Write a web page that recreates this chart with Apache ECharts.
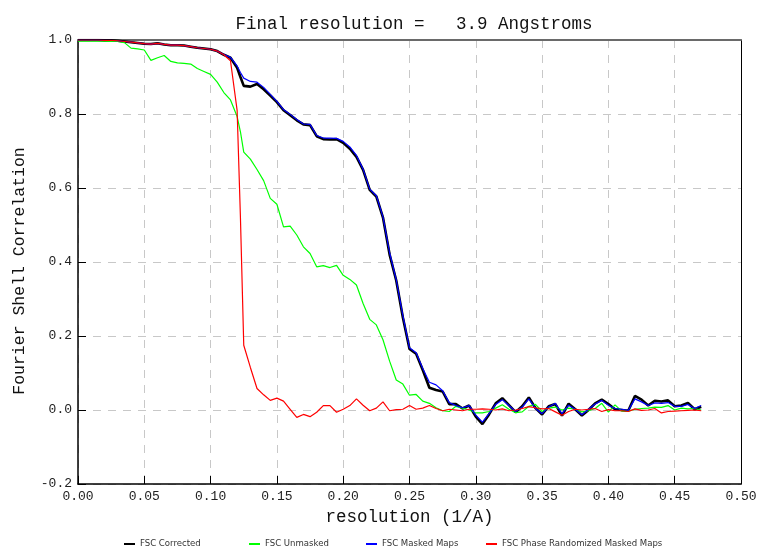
<!DOCTYPE html>
<html>
<head>
<meta charset="utf-8">
<script src="https://cdn.jsdelivr.net/npm/echarts@6/dist/echarts.min.js"></script>
<style>
  html, body { margin: 0; padding: 0; background: #fff; }
  #chart { width: 761px; height: 548px; }
</style>
</head>
<body>
<div id="chart"></div>
<script>
// Spatial frequency of each Fourier shell (1/Å)
const resolution = [
  0.000, 0.005, 0.010, 0.015, 0.020, 0.025, 0.030, 0.035, 0.040, 0.045,
  0.050, 0.055, 0.060, 0.065, 0.070, 0.075, 0.080, 0.085, 0.090, 0.095,
  0.100, 0.105, 0.110, 0.115, 0.120, 0.1225, 0.125, 0.130, 0.135, 0.140,
  0.145, 0.150, 0.155, 0.160, 0.165, 0.170, 0.175, 0.180, 0.185, 0.190,
  0.195, 0.200, 0.205, 0.210, 0.215, 0.220, 0.225, 0.230, 0.235, 0.240,
  0.245, 0.250, 0.255, 0.260, 0.265, 0.270, 0.275, 0.280, 0.285, 0.290,
  0.295, 0.300, 0.305, 0.310, 0.315, 0.320, 0.325, 0.330, 0.335, 0.340,
  0.345, 0.350, 0.355, 0.360, 0.365, 0.370, 0.375, 0.380, 0.385, 0.390,
  0.395, 0.400, 0.405, 0.410, 0.415, 0.420, 0.425, 0.430, 0.435, 0.440,
  0.445, 0.450, 0.455, 0.460, 0.465, 0.470
];

const fscCorrected = [
  1.000, 1.000, 1.000, 1.000, 0.999, 0.999, 0.998, 0.996, 0.994, 0.992,
  0.990, 0.989, 0.991, 0.988, 0.986, 0.986, 0.985, 0.982, 0.979, 0.977,
  0.975, 0.970, 0.960, 0.952, 0.925, 0.900, 0.876, 0.874, 0.881, 0.867,
  0.850, 0.832, 0.810, 0.797, 0.783, 0.772, 0.770, 0.740, 0.732, 0.731,
  0.732, 0.722, 0.706, 0.684, 0.649, 0.595, 0.577, 0.520, 0.420, 0.350,
  0.250, 0.165, 0.152, 0.108, 0.060, 0.054, 0.050, 0.016, 0.016, 0.004,
  0.012, -0.018, -0.038, -0.012, 0.018, 0.032, 0.013, -0.006, 0.010, 0.034,
  0.005, -0.012, 0.010, 0.016, -0.015, 0.017, 0.002, -0.015, 0.000, 0.018,
  0.028, 0.016, 0.002, 0.000, -0.002, 0.038, 0.028, 0.012, 0.025, 0.023,
  0.026, 0.010, 0.012, 0.019, 0.002, 0.009
];

const fscUnmasked = [
  0.997, 0.997, 0.997, 0.997, 0.997, 0.996, 0.996, 0.993, 0.978, 0.976,
  0.973, 0.945, 0.952, 0.958, 0.942, 0.938, 0.937, 0.935, 0.923, 0.915,
  0.907, 0.886, 0.858, 0.838, 0.793, 0.752, 0.697, 0.678, 0.650, 0.620,
  0.572, 0.556, 0.495, 0.497, 0.473, 0.441, 0.423, 0.387, 0.390, 0.385,
  0.391, 0.364, 0.353, 0.338, 0.288, 0.245, 0.230, 0.190, 0.132, 0.081,
  0.070, 0.040, 0.042, 0.024, 0.018, 0.006, -0.002, -0.004, 0.010, 0.005,
  0.000, -0.008, -0.008, -0.004, 0.005, 0.014, 0.002, -0.007, -0.005, 0.010,
  0.015, -0.004, 0.005, 0.008, 0.000, 0.005, 0.002, -0.005, -0.002, 0.004,
  0.018, -0.006, 0.014, -0.003, -0.003, 0.002, 0.004, 0.005, 0.008, 0.007,
  0.012, 0.000, 0.005, 0.003, 0.004, 0.000
];

const fscMasked = [
  1.000, 1.000, 1.000, 1.000, 0.999, 0.999, 0.998, 0.996, 0.994, 0.992,
  0.990, 0.989, 0.991, 0.988, 0.986, 0.986, 0.985, 0.982, 0.979, 0.977,
  0.975, 0.970, 0.961, 0.953, 0.930, 0.912, 0.897, 0.888, 0.886, 0.872,
  0.853, 0.834, 0.812, 0.799, 0.785, 0.773, 0.772, 0.742, 0.735, 0.735,
  0.734, 0.726, 0.711, 0.688, 0.651, 0.597, 0.579, 0.522, 0.425, 0.352,
  0.255, 0.168, 0.155, 0.112, 0.075, 0.068, 0.052, 0.020, 0.012, 0.006,
  0.012, -0.014, -0.033, -0.010, 0.015, 0.028, 0.012, -0.004, 0.008, 0.030,
  0.004, -0.010, 0.008, 0.018, -0.010, 0.013, 0.002, -0.013, 0.002, 0.016,
  0.026, 0.013, 0.004, 0.002, -0.001, 0.030, 0.022, 0.012, 0.019, 0.018,
  0.020, 0.010, 0.010, 0.015, 0.004, 0.012
];

const fscPhaseRandomized = [
  1.000, 1.000, 1.000, 1.000, 0.999, 0.999, 0.998, 0.996, 0.994, 0.992,
  0.990, 0.989, 0.991, 0.988, 0.986, 0.986, 0.985, 0.982, 0.979, 0.977,
  0.975, 0.970, 0.960, 0.944, 0.810, 0.520, 0.175, 0.115, 0.058, 0.041,
  0.026, 0.032, 0.024, 0.002, -0.020, -0.012, -0.018, -0.006, 0.012, 0.012,
  -0.006, 0.002, 0.012, 0.030, 0.013, -0.002, 0.005, 0.022, -0.002, 0.001,
  0.002, 0.012, 0.002, 0.005, 0.012, 0.004, -0.002, 0.002, 0.000, -0.002,
  0.002, 0.002, 0.003, 0.002, 0.000, 0.003, -0.002, 0.000, 0.004, 0.009,
  0.006, 0.003, 0.004, -0.005, -0.014, -0.004, 0.002, 0.000, 0.002, 0.004,
  -0.004, 0.001, -0.002, -0.002, -0.004, 0.003, -0.001, 0.000, 0.004, -0.008,
  -0.004, -0.003, -0.002, -0.001, 0.000, -0.002
];

const seriesNames = ['FSC Corrected', 'FSC Unmasked', 'FSC Masked Maps', 'FSC Phase Randomized Masked Maps'];
const seriesValues = [fscCorrected, fscUnmasked, fscMasked, fscPhaseRandomized];
const seriesColors = ['#000000', '#00ff00', '#0000ff', '#ff0000'];
const seriesWidths = [2.6, 1.2, 1.2, 1.2];

const xTicks = { min: 0, max: 0.5, step: 0.05 };
const yTicks = { min: -0.2, max: 1.0, step: 0.2 };

const mono = '"Liberation Mono", "DejaVu Sans Mono", monospace';

const chart = echarts.init(document.getElementById('chart'), null, { renderer: 'canvas' });

const gridLine = { show: true, lineStyle: { color: '#c8c8c8', type: [8, 7], width: 1 } };

// one legend block per series so each key sits in its own column
const legendColumns = [124, 249, 366, 486];
const legends = seriesNames.map((name, i) => ({
  data: [name],
  left: legendColumns[i],
  top: 539,
  padding: 0,
  itemWidth: 11,
  itemHeight: 2,
  icon: 'rect',
  textStyle: {
    fontFamily: '"DejaVu Sans Condensed", "Liberation Sans", sans-serif',
    fontSize: 9.5,
    color: '#333'
  }
}));

chart.setOption({
  animation: false,
  backgroundColor: '#ffffff',
  title: {
    text: 'Final resolution =   3.9 Angstroms',
    left: 409,
    top: 10,
    textAlign: 'center',
    textStyle: { fontFamily: mono, fontSize: 17.5, fontWeight: 'normal', color: '#111' }
  },
  legend: legends,
  grid: { left: 78, right: 20, top: 40, bottom: 64, containLabel: false },
  xAxis: [
    {
      type: 'value',
      min: xTicks.min,
      max: xTicks.max,
      interval: xTicks.step,
      name: 'resolution (1/A)',
      nameLocation: 'middle',
      nameGap: 22,
      nameTextStyle: { fontFamily: mono, fontSize: 17.5, color: '#111' },
      axisLine: { show: true, onZero: false, lineStyle: { color: '#000', width: 1.5 } },
      axisTick: { show: true, inside: true, length: 8, lineStyle: { color: '#000' } },
      axisLabel: {
        fontFamily: mono, fontSize: 13, color: '#222', margin: 6,
        formatter: v => v.toFixed(2)
      },
      splitLine: gridLine
    },
    {
      type: 'value',
      position: 'top',
      min: xTicks.min,
      max: xTicks.max,
      interval: xTicks.step,
      axisLine: { show: true, onZero: false, lineStyle: { color: '#6a6a6a', width: 2 } },
      axisTick: { show: false },
      axisLabel: { show: false },
      splitLine: { show: false }
    }
  ],
  yAxis: [
    {
      type: 'value',
      min: yTicks.min,
      max: yTicks.max,
      interval: yTicks.step,
      name: 'Fourier Shell Correlation',
      nameLocation: 'middle',
      nameGap: 50,
      nameTextStyle: { fontFamily: mono, fontSize: 16.5, color: '#111', padding: [0, 18, 0, 0] },
      axisLine: { show: true, onZero: false, lineStyle: { color: '#000', width: 1.5 } },
      axisTick: { show: true, inside: true, length: 8, lineStyle: { color: '#000' } },
      axisLabel: {
        fontFamily: mono, fontSize: 13, color: '#222', margin: 6,
        formatter: v => v.toFixed(1)
      },
      splitLine: gridLine
    },
    {
      type: 'value',
      position: 'right',
      min: yTicks.min,
      max: yTicks.max,
      interval: yTicks.step,
      axisLine: { show: true, onZero: false, lineStyle: { color: '#000', width: 1 } },
      axisTick: { show: false },
      axisLabel: { show: false },
      splitLine: { show: false }
    }
  ],
  series: seriesNames.map((name, i) => ({
    name: name,
    type: 'line',
    xAxisIndex: 0,
    yAxisIndex: 0,
    showSymbol: false,
    symbol: 'none',
    smooth: false,
    color: seriesColors[i],
    lineStyle: { color: seriesColors[i], width: seriesWidths[i] },
    data: resolution.map((x, k) => [x, seriesValues[i][k]]),
    z: 2 + i
  }))
});
</script>
</body>
</html>
